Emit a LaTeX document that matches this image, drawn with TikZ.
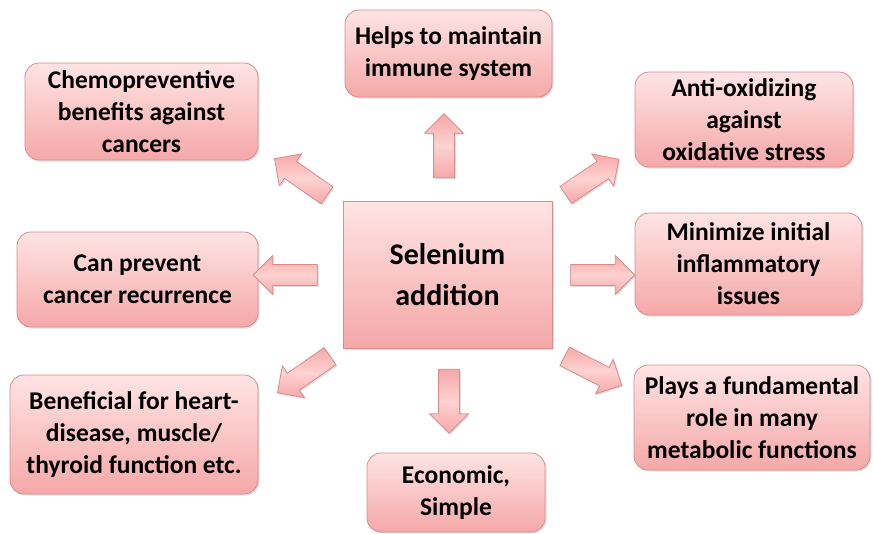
\documentclass[tikz,border=0pt]{standalone}
\usepackage{fontspec}
\setmainfont{Carlito}
\usetikzlibrary{shapes.arrows, shadows}
\definecolor{boxtop}{HTML}{FFE4E4}
\definecolor{boxbot}{HTML}{F5A8A8}
\definecolor{boxline}{HTML}{D98C8C}
\definecolor{arrmid}{HTML}{FFD2D2}
\definecolor{arredge}{HTML}{F6A8A8}
\tikzstyle{effect}=[draw=boxline, line width=0.8pt, rounded corners=14pt, top color=boxtop, bottom color=boxbot, align=center, inner sep=0pt, font=\fontsize{25.5}{32}\selectfont\bfseries, drop shadow={opacity=0.25, shadow xshift=1.5pt, shadow yshift=-1.5pt}]
\tikzstyle{source}=[effect, rounded corners=0pt, font=\fontsize{30}{41}\selectfont\bfseries]
\tikzstyle{push}=[single arrow, draw=boxline, line width=0.8pt, minimum height=64pt, minimum width=38pt, text height=10pt, text depth=10pt, text width=0pt, single arrow head extend=9pt, inner sep=0pt, top color=arredge, bottom color=arredge, middle color=arrmid, drop shadow={opacity=0.25, shadow xshift=1.5pt, shadow yshift=-1.5pt}]

\begin{document}
\begin{tikzpicture}[x=1pt, y=1pt]
    \useasboundingbox (0, 0) rectangle (873, -533);

    \node[source, minimum width=209pt, minimum height=147pt] (sel) at (447.5, -274.5) {Selenium\\addition};

    \node[effect, minimum width=207pt, minimum height=87pt] (immune) at (448.5, -53.5) {Helps to maintain\\immune system};
    \node[effect, minimum width=233pt, minimum height=97pt] (chemo) at (141.5, -111.5) {Chemopreventive\\benefits against\\cancers};
    \node[effect, minimum width=218pt, minimum height=95pt] (oxid) at (744, -119.5) {Anti-oxidizing\\against\\oxidative stress};
    \node[effect, minimum width=241pt, minimum height=95pt] (recur) at (137.5, -279.5) {Can prevent\\cancer recurrence};
    \node[effect, minimum width=227pt, minimum height=102pt] (inflam) at (748.5, -264) {Minimize initial\\inflammatory\\issues};
    \node[effect, minimum width=248pt, minimum height=119pt] (heart) at (134, -434.5) {Beneficial for heart-\\disease, muscle/\\thyroid function etc.};
    \node[effect, minimum width=236pt, minimum height=105pt] (metab) at (752, -417.5) {Plays a fundamental\\role in many\\metabolic functions};
    \node[effect, minimum width=178pt, minimum height=79pt] (econ) at (456, -492.5) {Economic,\\Simple};

    % block arrows from the centre box outwards
    \node[push, rotate=90] (toimmune) at (444, -151) {};
    \node[push, rotate=145] (tochemo) at (305, -180) {};
    \node[push, rotate=34] (tooxid) at (588, -180) {};
    \node[push, rotate=180] (torecur) at (290.5, -275) {};
    \node[push, rotate=0] (toinflam) at (597.5, -275) {};
    \node[push, rotate=215] (toheart) at (308, -371.5) {};
    \node[push, rotate=270] (toecon) at (449, -396) {};
    \node[push, rotate=-27] (tometab) at (588.5, -368.5) {};
\end{tikzpicture}
\end{document}
